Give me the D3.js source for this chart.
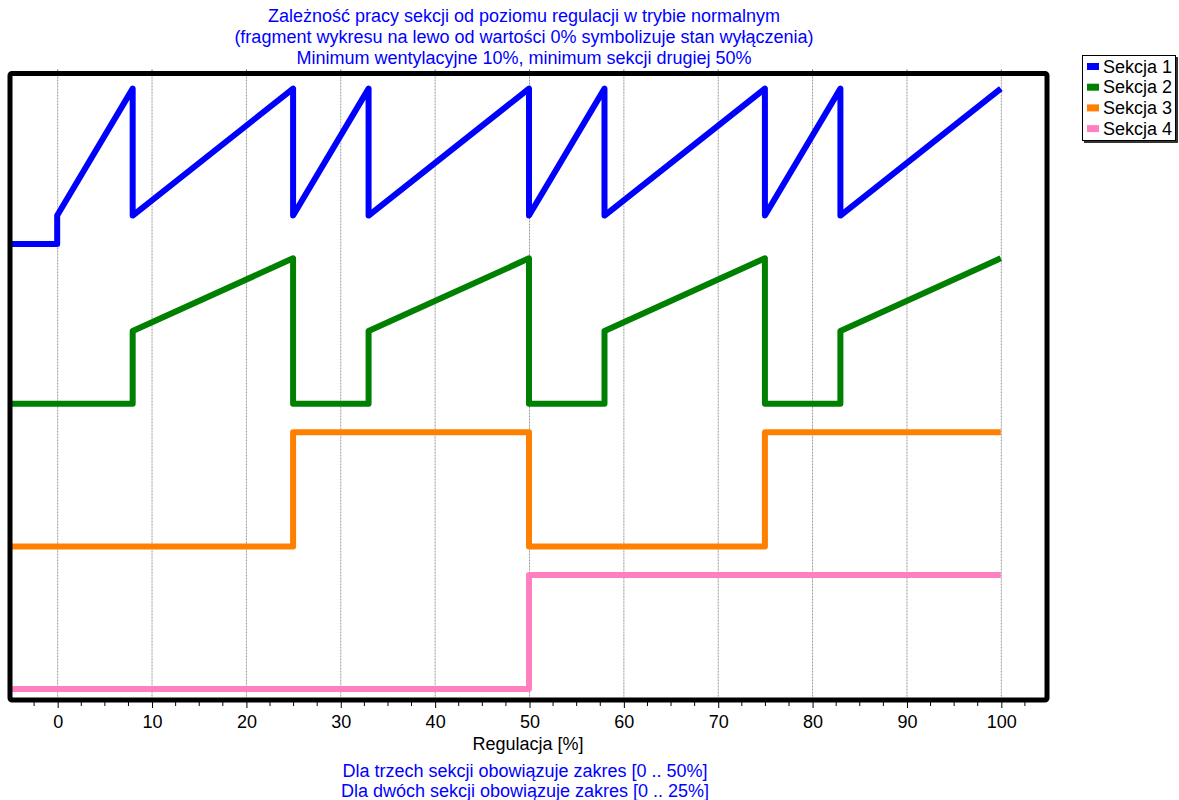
<!DOCTYPE html>
<html>
<head>
<meta charset="utf-8">
<script src="https://cdn.jsdelivr.net/npm/d3@7"></script>
<style>
  html, body { margin: 0; padding: 0; background: #fff; }
  svg { display: block; font-family: "Liberation Sans", Arial, sans-serif; }
</style>
</head>
<body>
<svg id="chart" width="1179" height="800"></svg>
<script>
// ---- data ----
const titleLines = [
  "Zależność pracy sekcji od poziomu regulacji w trybie normalnym",
  "(fragment wykresu na lewo od wartości 0% symbolizuje stan wyłączenia)",
  "Minimum wentylacyjne 10%, minimum sekcji drugiej 50%"
];
const noteLines = [
  "Dla trzech sekcji obowiązuje zakres [0 .. 50%]",
  "Dla dwóch sekcji obowiązuje zakres [0 .. 25%]"
];
const xAxisTitle = "Regulacja [%]";
const seriesNames = ["Sekcja 1", "Sekcja 2", "Sekcja 3", "Sekcja 4"];
const seriesColors = ["#0000ff", "#008000", "#ff8000", "#ff80c0"];
const xTicks = [0, 10, 20, 30, 40, 50, 60, 70, 80, 90, 100];

// levels on a hidden vertical scale (sections stacked)
const s1x = [-5, 0, 0, 8, 8, 25, 25, 33, 33, 50, 50, 58, 58, 75, 75, 83, 83, 100];
const s1y = [312, 312, 332, 421, 332, 421, 332, 421, 332, 421, 332, 421, 332, 421, 332, 421, 332, 421];
const s2x = [-5, 8, 8, 25, 25, 33, 33, 50, 50, 58, 58, 75, 75, 83, 83, 100];
const s2y = [200, 200, 251, 302, 200, 200, 251, 302, 200, 200, 251, 302, 200, 200, 251, 302];
const s3x = [-5, 25, 25, 50, 50, 75, 75, 100];
const s3y = [100, 100, 180, 180, 100, 100, 180, 180];
const s4x = [-5, 50, 50, 100];
const s4y = [0, 0, 80, 80];

const seriesX = [s1x, s2x, s3x, s4x];
const seriesY = [s1y, s2y, s3y, s4y];

// ---- layout ----
const plot = { left: 10, right: 1047, top: 73.5, bottom: 700 };
const svg = d3.select("#chart");
const FS = 18;

const x = d3.scaleLinear().domain([-5, 105]).range([plot.left, plot.right + 1]);
const y = d3.scaleLinear().domain([-7.7, 431.6]).range([plot.bottom, plot.top]);

// gridlines
svg.append("g").selectAll("line").data(xTicks).join("line")
  .attr("x1", d => x(d) + 0.5).attr("x2", d => x(d) + 0.5)
  .attr("y1", plot.top).attr("y2", plot.bottom)
  .attr("stroke", "#9a9a9a").attr("stroke-width", 1)
  .attr("stroke-dasharray", "2,1");

// bottom axis
const minorTicks = d3.range(-2.5, 105, 2.5).filter(d => d % 10 !== 0);
const axis = svg.append("g").attr("transform", `translate(0.5,${plot.bottom})`);
axis.call(d3.axisBottom(x).tickValues(xTicks).tickSize(8).tickPadding(7).tickFormat(d3.format("d")))
  .call(g => g.select(".domain").remove())
  .call(g => g.selectAll(".tick line").attr("stroke", "#000"))
  .call(g => g.selectAll(".tick text").attr("font-size", FS).attr("fill", "#000")
        .attr("font-family", "'Liberation Sans', Arial, sans-serif"));
axis.append("g").selectAll("line").data(minorTicks).join("line")
  .attr("x1", d => x(d)).attr("x2", d => x(d))
  .attr("y1", 0).attr("y2", 6).attr("stroke", "#000");

// top ticks
svg.append("g").selectAll("line").data(xTicks).join("line")
  .attr("x1", d => x(d) + 0.5).attr("x2", d => x(d) + 0.5)
  .attr("y1", plot.top - 4).attr("y2", plot.top)
  .attr("stroke", "#666");

// series
const line = d3.line().x(d => x(d[0])).y(d => y(d[1]));
seriesX.forEach((xs, i) => {
  const pts = xs.map((v, j) => [v, seriesY[i][j]]);
  svg.append("path").datum(pts)
    .attr("d", line)
    .attr("fill", "none")
    .attr("stroke", seriesColors[i])
    .attr("stroke-width", 6)
    .attr("stroke-linejoin", "round")
    .attr("stroke-linecap", "butt");
});

// frame
svg.append("rect")
  .attr("x", plot.left).attr("y", plot.top)
  .attr("width", plot.right - plot.left).attr("height", plot.bottom - plot.top)
  .attr("fill", "none").attr("stroke", "#000").attr("stroke-width", 5)
  .attr("rx", 2);

// title
svg.append("g").selectAll("text").data(titleLines).join("text")
  .attr("x", 524).attr("y", (d, i) => 22 + i * 21)
  .attr("text-anchor", "middle").attr("font-size", FS).attr("fill", "#0000ff")
  .text(d => d);

// axis title
svg.append("text").attr("x", 528).attr("y", 750)
  .attr("text-anchor", "middle").attr("font-size", FS).attr("fill", "#000")
  .text(xAxisTitle);

// notes
svg.append("g").selectAll("text").data(noteLines).join("text")
  .attr("x", 525).attr("y", (d, i) => 777 + i * 20)
  .attr("text-anchor", "middle").attr("font-size", FS).attr("fill", "#0000ff")
  .text(d => d);

// legend
const lg = svg.append("g").attr("transform", "translate(1082,55)");
lg.append("rect").attr("x", 2).attr("y", 2).attr("width", 94).attr("height", 86).attr("fill", "#333");
lg.append("rect").attr("x", 0.5).attr("y", 0.5).attr("width", 93).attr("height", 85)
  .attr("fill", "#fff").attr("stroke", "#000").attr("stroke-width", 1);
seriesNames.forEach((n, i) => {
  const row = lg.append("g").attr("transform", `translate(0,${11 + i * 20.7})`);
  row.append("rect").attr("x", 5).attr("y", -3).attr("width", 12).attr("height", 7).attr("fill", seriesColors[i]);
  row.append("text").attr("x", 21).attr("y", 6.5).attr("font-size", FS).attr("fill", "#000").text(n);
});
</script>
</body>
</html>
